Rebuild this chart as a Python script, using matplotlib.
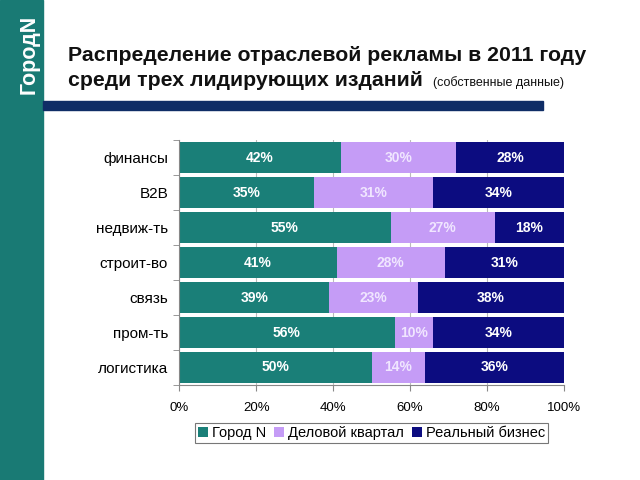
import numpy as np
import matplotlib.pyplot as plt
from matplotlib.patches import Rectangle

plt.rcParams["font.family"] = ["Liberation Sans", "DejaVu Sans"]

categories = ["финансы", "B2B", "недвиж-ть", "строит-во", "связь", "пром-ть", "логистика"]
gorod_n = [42, 35, 55, 41, 39, 56, 50]
delovoy = [30, 31, 27, 28, 23, 10, 14]
realny = [28, 34, 18, 31, 38, 34, 36]
series_names = ["Город N", "Деловой квартал", "Реальный бизнес"]
colors = ["#1a7f78", "#c59cf6", "#0c0c80"]
label_colors = ["white", "#f0e6ff", "white"]
x_ticks = [0, 20, 40, 60, 80, 100]


def draw():
    fig = plt.figure(figsize=(6.4, 4.8), dpi=100)

    # left stripe and header bar
    fig.patches.append(Rectangle((0, 0), 0.067, 1, transform=fig.transFigure,
                                 color="#197a74", zorder=0))
    fig.patches.append(Rectangle((0.067, 0.771), 0.782, 0.019, transform=fig.transFigure,
                                 color="#0f2d66", zorder=0))
    fig.text(0.045, 0.887, "ГородN", rotation=90, color="white", fontsize=15.5,
             fontweight="bold", ha="center", va="center")
    fig.text(0.106, 0.885, "Распределение отраслевой рекламы в 2011 году",
             fontsize=15.3, fontweight="bold", ha="left", va="center", color="#111111")
    line2 = fig.text(0.106, 0.832, "среди трех лидирующих изданий",
                     fontsize=15.3, fontweight="bold", ha="left", va="center", color="#111111")
    fig.canvas.draw()
    bb = line2.get_window_extent().transformed(fig.transFigure.inverted())
    fig.text(bb.x1 + 0.016, 0.828, "(собственные данные)", fontsize=9,
             ha="left", va="center", color="#111111")

    ax = fig.add_axes([0.28, 0.198, 0.601, 0.51])
    y = np.arange(len(categories))[::-1]
    data = [gorod_n, delovoy, realny]
    left = np.zeros(len(categories))
    for vals, name, c, lc in zip(data, series_names, colors, label_colors):
        vals = np.array(vals)
        bars = ax.barh(y, vals, left=left, height=0.88, color=c, label=name, zorder=2)
        ax.bar_label(bars, labels=[f"{v}%" for v in vals], label_type="center",
                     color=lc, fontsize=10, fontweight="bold")
        left += vals

    ax.set_xlim(0, 100)
    ax.set_ylim(-0.5, len(categories) - 0.5)
    ax.set_yticks(y)
    ax.set_yticklabels(categories, fontsize=11)
    ax.set_yticks(np.arange(-0.5, len(categories), 1), minor=True)
    ax.tick_params(axis="y", which="major", length=0, pad=8)
    ax.tick_params(axis="y", which="minor", length=4, color="#888888")
    ax.set_xticks(x_ticks)
    ax.set_xticklabels([f"{t}%" for t in x_ticks], fontsize=9.5)
    ax.tick_params(axis="x", length=4, color="#888888", pad=8)
    ax.grid(axis="x", color="#bbbbbb", lw=0.8, zorder=0)
    for s in ["top", "right"]:
        ax.spines[s].set_visible(False)
    ax.spines["left"].set_color("#888888")
    ax.spines["bottom"].set_color("#888888")

    leg = ax.legend(loc="upper center", bbox_to_anchor=(0.5, -0.155), ncol=3,
                    fontsize=10.5, frameon=True, fancybox=False, edgecolor="#555555",
                    handlelength=0.7, handleheight=0.7, handletextpad=0.3,
                    columnspacing=0.5, borderpad=0.2, borderaxespad=0)
    leg.get_frame().set_linewidth(0.8)

    fig.savefig("out.png", dpi=100)


if __name__ == "__main__":
    draw()
